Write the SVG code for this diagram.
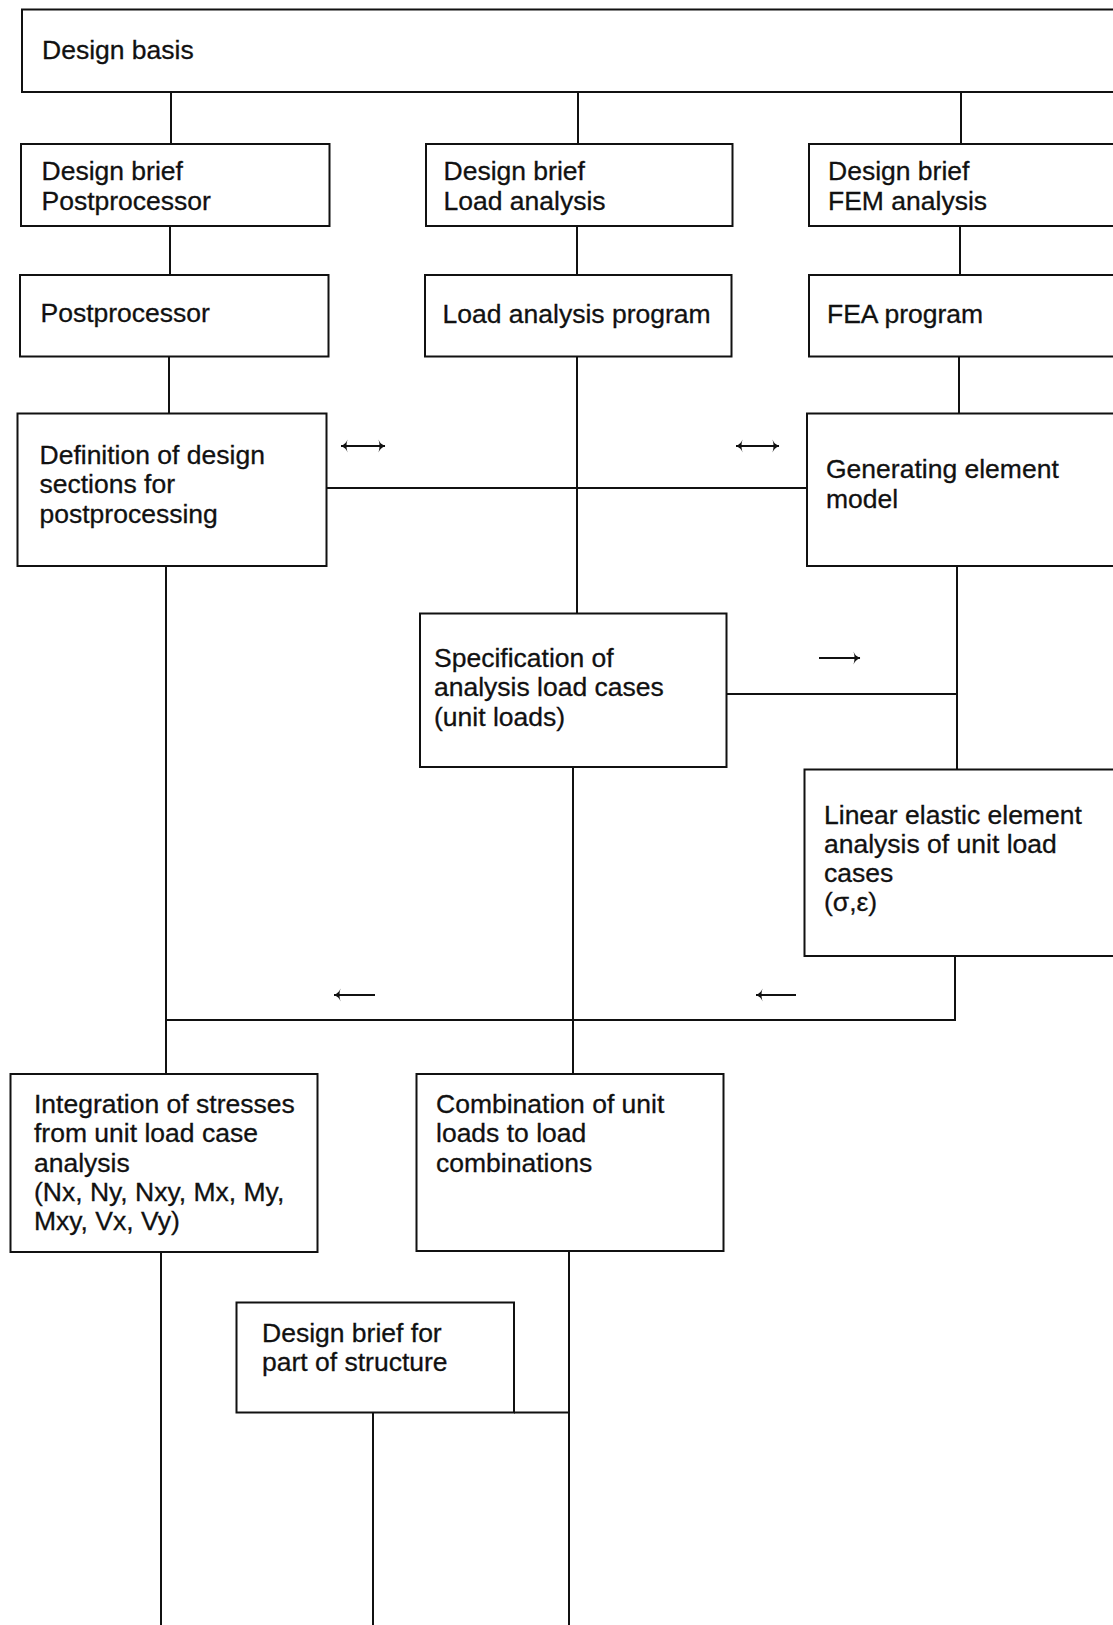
<svg xmlns="http://www.w3.org/2000/svg" width="1113" height="1625" viewBox="0 0 1113 1625">
  <style>
    .box { fill: #ffffff; stroke: #111111; stroke-width: 2; }
    .lbl { font-family: "Liberation Sans", Arial, Helvetica, sans-serif; font-size: 26.5px; fill: #111111; stroke: #111111; stroke-width: 0.3; }
    .wire { fill: none; stroke: #111111; stroke-width: 2; }
    .flow { fill: none; stroke: #111111; stroke-width: 2.2; }
  </style>
  <defs>
    <!-- small curved arrowhead used on the direction marks -->
    <marker id="head" viewBox="0 0 8 14" refX="7.5" refY="7" markerWidth="8" markerHeight="14" orient="auto-start-reverse" markerUnits="userSpaceOnUse">
      <path d="M1,0.5 Q2.5,5 7.8,7 Q2.5,9 1,13.5 Q3,7 1,0.5 Z" fill="#111111"/>
    </marker>
  </defs>
  <rect width="1113" height="1625" fill="#ffffff"/>

  <!-- connectors -->
  <g id="connectors">
    <path class="wire" d="M171,92 V144 M578,92 V144 M961,92 V144"/>
    <path class="wire" d="M170,226 V275 M577,226 V275 M960,226 V275"/>
    <path class="wire" d="M169,356 V413.5 M959,356 V413.5"/>
    <path class="wire" d="M577,356 V613.5"/>
    <path class="wire" d="M326,488 H807"/>
    <path class="wire" d="M957,566 V769.5 M726.5,694 H957"/>
    <path class="wire" d="M955,956 V1020 H165"/>
    <path class="wire" d="M166,566 V1074"/>
    <path class="wire" d="M573,767 V1074"/>
    <path class="wire" d="M161,1252 V1625"/>
    <path class="wire" d="M569,1251 V1625 M514,1412.5 H569"/>
    <path class="wire" d="M373,1412.5 V1625"/>
    <!-- direction marks -->
    <path class="flow" d="M341,446 H385" marker-start="url(#head)" marker-end="url(#head)"/>
    <path class="flow" d="M736,446 H779" marker-start="url(#head)" marker-end="url(#head)"/>
    <path class="flow" d="M819,658 H860" marker-end="url(#head)"/>
    <path class="flow" d="M375,995 H334" marker-end="url(#head)"/>
    <path class="flow" d="M796,995 H756" marker-end="url(#head)"/>
  </g>

  <g id="design-basis">
    <rect class="box" x="22" y="9.5" width="1110" height="82.5"/>
    <text class="lbl" x="42" y="59">Design basis</text>
  </g>

  <g id="brief-postprocessor">
    <rect class="box" x="21" y="144" width="308.5" height="82"/>
    <text class="lbl" x="41.5" y="180">Design brief</text>
    <text class="lbl" x="41.5" y="209.5">Postprocessor</text>
  </g>
  <g id="brief-load">
    <rect class="box" x="426" y="144" width="306.5" height="82"/>
    <text class="lbl" x="443.5" y="180">Design brief</text>
    <text class="lbl" x="443.5" y="209.5">Load analysis</text>
  </g>
  <g id="brief-fem">
    <rect class="box" x="809" y="144" width="320" height="82"/>
    <text class="lbl" x="828" y="180">Design brief</text>
    <text class="lbl" x="828" y="209.5">FEM analysis</text>
  </g>

  <g id="postprocessor">
    <rect class="box" x="20" y="275" width="308.5" height="81.5"/>
    <text class="lbl" x="40.5" y="322">Postprocessor</text>
  </g>
  <g id="load-program">
    <rect class="box" x="425" y="275" width="306.5" height="81.5"/>
    <text class="lbl" x="442.5" y="323">Load analysis program</text>
  </g>
  <g id="fea-program">
    <rect class="box" x="809" y="275" width="320" height="81.5"/>
    <text class="lbl" x="827" y="323">FEA program</text>
  </g>

  <g id="design-sections">
    <rect class="box" x="17.5" y="413.5" width="309" height="152.5"/>
    <text class="lbl" x="39.5" y="464">Definition of design</text>
    <text class="lbl" x="39.5" y="493.3">sections for</text>
    <text class="lbl" x="39.5" y="522.6">postprocessing</text>
  </g>
  <g id="element-model">
    <rect class="box" x="807" y="413.5" width="322" height="152.5"/>
    <text class="lbl" x="826" y="478.3">Generating element</text>
    <text class="lbl" x="826" y="507.6">model</text>
  </g>

  <g id="load-cases">
    <rect class="box" x="420" y="613.5" width="306.5" height="153.5"/>
    <text class="lbl" x="434" y="667">Specification of</text>
    <text class="lbl" x="434" y="696.3">analysis load cases</text>
    <text class="lbl" x="434" y="725.6">(unit loads)</text>
  </g>

  <g id="linear-analysis">
    <rect class="box" x="804.5" y="769.5" width="325" height="186.5"/>
    <text class="lbl" x="824" y="823.5">Linear elastic element</text>
    <text class="lbl" x="824" y="852.8">analysis of unit load</text>
    <text class="lbl" x="824" y="882.1">cases</text>
    <text class="lbl" x="824" y="911.4">(σ,ε)</text>
  </g>

  <g id="stress-integration">
    <rect class="box" x="10.5" y="1074" width="307" height="178"/>
    <text class="lbl" x="34" y="1113">Integration of stresses</text>
    <text class="lbl" x="34" y="1142.3">from unit load case</text>
    <text class="lbl" x="34" y="1171.6">analysis</text>
    <text class="lbl" x="34" y="1200.9">(Nx, Ny, Nxy, Mx, My,</text>
    <text class="lbl" x="34" y="1230.2">Mxy, Vx, Vy)</text>
  </g>
  <g id="load-combinations">
    <rect class="box" x="416.5" y="1074" width="307" height="177"/>
    <text class="lbl" x="436" y="1113">Combination of unit</text>
    <text class="lbl" x="436" y="1142.3">loads to load</text>
    <text class="lbl" x="436" y="1171.6">combinations</text>
  </g>

  <g id="part-brief">
    <rect class="box" x="236.5" y="1302.5" width="277.5" height="110"/>
    <text class="lbl" x="262" y="1341.5">Design brief for</text>
    <text class="lbl" x="262" y="1370.8">part of structure</text>
  </g>
</svg>
